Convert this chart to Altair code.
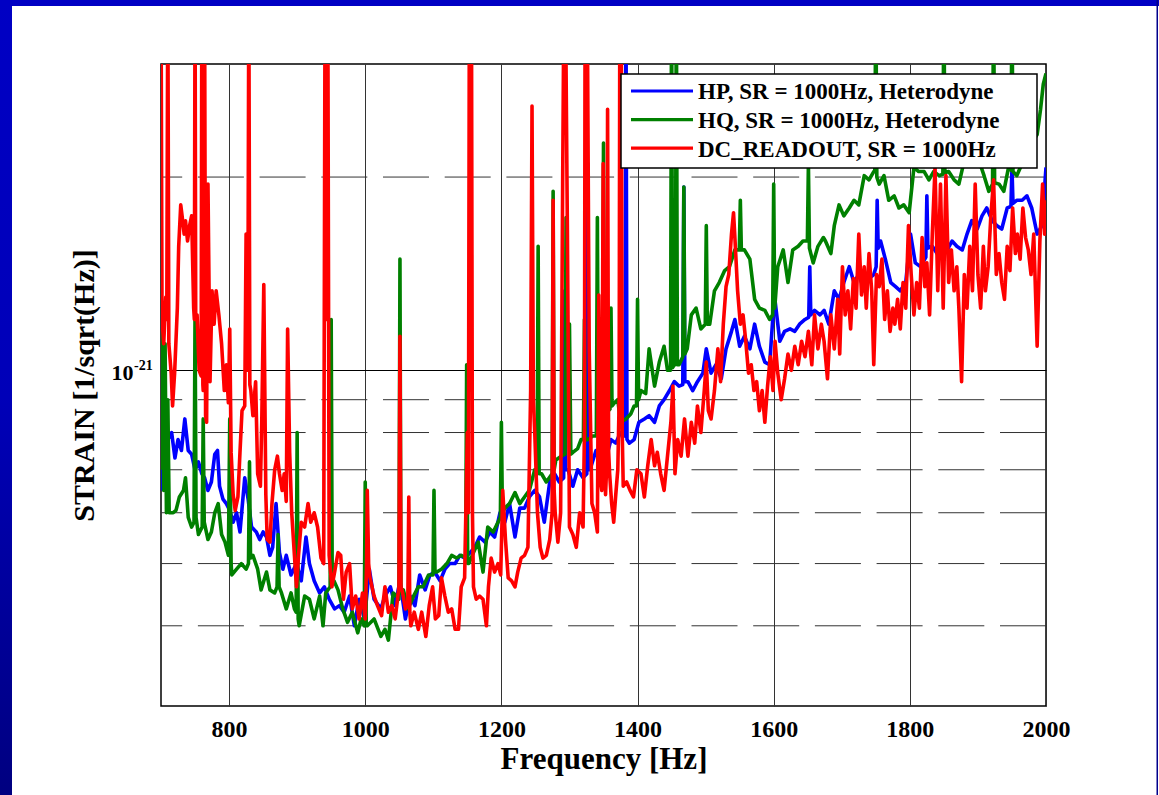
import altair as alt
import pandas as pd

# ---------------- data (strain in units of 1e-22 / sqrt(Hz)) ----------------
SERIES = ["HP, SR = 1000Hz, Heterodyne", "HQ, SR = 1000Hz, Heterodyne", "DC_READOUT, SR = 1000Hz"]
COLORS = ["#0000FF", "#008000", "#FF0000"]

hp_points = [
    (700, 6.5), (703, 8.5), (706, 7.0), (710, 7.8), (715.6, 8.0), (720.5, 7.3), (725, 7.8), (730, 7.5),
    (735, 8.4), (740, 7.5), (745, 7.4), (750, 7.0), (755, 7.2), (760, 6.9), (764, 6.8), (769, 6.5),
    (774, 6.7), (779, 7.4), (783, 7.5), (786, 6.6), (791, 6.3), (796, 6.2), (801, 6.05), (806, 5.8),
    (811, 6.0), (816, 5.6), (823, 6.8), (828, 6.3), (833, 5.7), (840, 5.6), (845, 5.45), (850, 5.6),
    (855, 5.5), (860, 5.15), (864, 5.3), (869, 6.2), (874, 5.2), (879, 4.9), (884, 5.15), (891, 4.8),
    (899, 5.0), (906, 4.7), (913, 5.5), (918, 5.0), (925, 4.7), (933, 4.5), (940, 4.6), (947, 4.4),
    (955, 4.25), (962, 4.3), (969, 4.2), (977, 4.45), (984, 4.0), (991, 4.4), (999, 4.1), (1006, 4.9),
    (1013, 4.4), (1023, 4.25), (1029, 4.45), (1037, 4.6), (1044, 4.3), (1051, 4.7), (1059, 4.1),
    (1066, 4.45), (1073, 4.3), (1080, 4.8), (1088, 4.55), (1095, 4.8), (1102, 4.85), (1110, 4.7),
    (1117, 4.9), (1124, 5.0), (1132, 5.0), (1139, 5.15), (1146, 5.1), (1154, 5.2), (1161, 5.3),
    (1168, 5.5), (1176, 5.4), (1183, 5.6), (1190, 5.5), (1198, 6.0), (1205, 5.8), (1212, 6.2),
    (1220, 5.5), (1227, 6.1), (1234, 6.1), (1241, 6.35), (1249, 6.5), (1256, 6.35), (1263, 5.8),
    (1271, 6.7), (1278, 6.9), (1285, 6.7), (1291.5, 6.8), (1293, 13.3), (1294.5, 7.0), (1298, 7.0),
    (1305, 6.6), (1312, 7.0), (1320, 6.8), (1325.5, 6.9), (1327, 21.0), (1328.5, 7.0), (1332, 7.1),
    (1339, 7.5), (1346, 7.3), (1351, 7.1), (1361, 7.8), (1368, 7.7), (1375, 8.0), (1381.5, 7.9),
    (1383, 40.0), (1384.5, 7.8), (1388, 7.7), (1395, 7.8), (1402, 8.3), (1410, 8.4), (1417, 8.5),
    (1425, 8.3), (1432, 8.8), (1439, 9.0), (1447, 9.3), (1454, 9.6), (1461, 9.45), (1466.5, 9.5),
    (1468, 19.3), (1469.5, 9.6), (1474, 9.6), (1481, 9.3), (1488, 9.6), (1496, 9.9), (1501, 10.8),
    (1508, 9.9), (1515, 10.2), (1523, 9.7), (1530, 10.8), (1538, 11.5), (1543, 12.0), (1550, 10.9),
    (1557, 11.3), (1565, 10.8), (1572, 11.8), (1579, 10.9), (1587, 10.3), (1594, 10.2), (1601, 13.1),
    (1609, 11.1), (1616, 11.5), (1624, 11.6), (1631, 11.5), (1638, 11.8), (1646, 12.0), (1651.5, 12.1),
    (1653, 14.5), (1654.5, 12.2), (1660, 12.4), (1668, 12.2), (1674, 12.4), (1681, 11.8), (1689, 13.3),
    (1696, 12.9), (1703, 13.7), (1711, 14.5), (1718, 13.7), (1725, 14.1), (1733, 13.3), (1740, 13.9),
    (1747, 14.1), (1750.5, 14.5), (1752, 18.4), (1753.5, 15.5), (1757, 15.9), (1764, 14.9), (1772, 13.7),
    (1779, 13.5), (1786, 13.3), (1794, 13.7), (1801, 16.3), (1808, 14.7), (1816, 14.5), (1823.5, 15.0),
    (1825, 18.7), (1826.5, 15.5), (1833, 15.6), (1840, 15.2), (1847, 16.1), (1855, 15.4), (1862, 15.9),
    (1869, 15.6), (1877, 15.4), (1884, 16.3), (1891, 17.1), (1899, 16.6), (1906, 17.4), (1913, 17.9),
    (1921, 17.1), (1928, 16.8), (1935, 16.6), (1943, 17.9), (1948.5, 18.0), (1950, 20.7), (1951.5, 18.2),
    (1957, 18.4), (1965, 18.4), (1972, 18.7), (1979, 17.9), (1987, 16.3), (1994, 16.8), (2000, 20.7),
]

hq_points = [
    (700, 7.0), (702, 12.5), (704, 6.5), (706, 11.0), (708, 6.0), (710, 9.0), (712, 6.0), (715, 6.0),
    (718, 6.0), (722, 6.05), (727, 6.35), (733, 6.5), (736, 6.8), (740, 5.9), (745, 5.7), (748.5, 5.8),
    (750, 12.2), (751.5, 5.9), (755, 5.55), (760.5, 5.7), (762, 8.4), (763.5, 5.8), (769, 5.45),
    (774, 5.6), (779, 6.0), (784, 6.2), (789, 5.55), (794, 5.4), (799, 5.15), (801, 8.4), (803, 5.0),
    (804, 4.8), (811, 4.9), (818, 5.0), (825, 4.9), (828.5, 5.0), (830, 7.2), (831.5, 5.1), (835, 5.15),
    (842, 4.9), (847, 4.55), (855, 4.85), (860, 4.55), (867, 4.5), (870.5, 4.6), (872, 5.55),
    (873.5, 4.6), (877, 4.5), (884, 4.25), (891, 4.5), (896, 4.25), (898.5, 4.2), (900, 8.0),
    (901.5, 4.1), (903, 4.0), (911, 4.45), (918, 4.4), (925, 4.1), (933, 4.45), (938, 4.0), (942, 4.5),
    (948.5, 4.6), (950, 12.0), (951.5, 4.7), (954, 4.7), (960, 4.55), (967, 4.25), (974, 4.05),
    (981, 4.2), (989, 3.9), (994, 4.1), (998.5, 4.0), (1000, 6.7), (1001.5, 4.0), (1003, 4.0),
    (1013, 4.1), (1023, 3.85), (1029, 3.95), (1034, 3.8), (1041, 4.5), (1046, 4.45), (1049.5, 4.4),
    (1051, 14.9), (1052.5, 4.5), (1056, 4.55), (1063, 4.25), (1071, 4.45), (1078, 4.6), (1085, 4.6),
    (1093, 4.8), (1099.5, 4.8), (1101, 6.5), (1102.5, 4.85), (1105, 4.85), (1112, 4.9), (1120, 5.0),
    (1127, 5.15), (1134, 5.1), (1141, 5.15), (1147.5, 5.1), (1149, 10.2), (1150.5, 5.0), (1152, 5.0),
    (1159, 5.2), (1166, 5.4), (1173, 4.85), (1180, 5.7), (1188, 5.6), (1195, 5.8), (1198.5, 5.9),
    (1200, 8.3), (1201.5, 6.0), (1205, 6.1), (1212, 6.2), (1220, 6.45), (1227, 6.2), (1234, 6.35),
    (1241, 6.5), (1249, 7.0), (1252.5, 6.9), (1254, 15.6), (1255.5, 6.9), (1259, 6.9), (1266, 6.7),
    (1274.5, 6.9), (1276, 19.0), (1277.5, 7.0), (1280, 7.25), (1288, 7.35), (1293.5, 7.4), (1295, 17.3),
    (1297, 9.0), (1300, 11.8), (1302, 7.4), (1305, 7.45), (1312, 7.55), (1317, 7.8), (1320.5, 7.8),
    (1322, 12.0), (1323.5, 7.8), (1327, 7.8), (1334, 7.9), (1339.5, 7.9), (1341, 17.3), (1342.5, 8.0),
    (1345, 8.0), (1348.5, 8.2), (1350, 22.6), (1351.5, 8.4), (1353, 8.55), (1359.5, 8.7), (1361, 12.5),
    (1362.5, 8.8), (1366, 8.9), (1371, 9.0), (1375, 8.3), (1383, 8.4), (1390, 8.55), (1395, 8.8),
    (1398.5, 8.8), (1400, 12.9), (1401.5, 9.0), (1405, 9.3), (1412, 9.2), (1417, 10.8), (1425, 9.45),
    (1432, 10.3), (1439, 10.9), (1444, 10.0), (1448.5, 10.0), (1450, 40.0), (1451.5, 10.1), (1454, 10.2),
    (1455.5, 10.2), (1457, 40.0), (1458.5, 10.2), (1461, 10.2), (1466.5, 10.5), (1468, 19.3),
    (1469.5, 10.6), (1473, 10.8), (1479, 12.2), (1486, 12.5), (1493, 11.6), (1499.5, 11.8), (1501, 16.8),
    (1502.5, 11.8), (1506, 11.8), (1513, 13.3), (1520, 13.7), (1528, 14.3), (1535, 14.5), (1543, 15.4),
    (1549.5, 15.4), (1551, 18.4), (1552.5, 15.4), (1557, 15.4), (1565, 14.9), (1572, 12.9), (1579, 12.5),
    (1587, 12.4), (1594, 12.0), (1598.5, 12.2), (1600, 19.5), (1601.5, 12.5), (1606, 14.5), (1614, 15.4),
    (1621, 13.7), (1628, 15.4), (1636, 15.6), (1643, 15.9), (1649.5, 15.9), (1651, 21.0), (1652.5, 15.5),
    (1658, 14.7), (1665, 15.6), (1673, 16.1), (1676, 15.9), (1684, 15.2), (1689, 16.8), (1696, 18.1),
    (1703, 17.4), (1711, 17.9), (1718, 18.4), (1725, 18.1), (1733, 20.1), (1740, 19.8), (1747, 20.4),
    (1748.5, 20.4), (1750, 40.0), (1751.5, 20.0), (1755, 19.5), (1762, 20.1), (1769, 18.4), (1777, 18.7),
    (1784, 17.9), (1791, 18.1), (1799, 17.6), (1806, 20.7), (1813, 20.4), (1821, 20.4), (1828, 19.8),
    (1835, 20.4), (1843, 20.1), (1848.5, 20.2), (1850, 40.0), (1851.5, 20.3), (1857, 20.4), (1865, 19.8),
    (1872, 19.5), (1879, 21.0), (1887, 21.3), (1894, 22.0), (1901, 21.3), (1909, 20.1), (1916, 19.0),
    (1921.5, 19.5), (1923, 40.0), (1924.5, 19.6), (1931, 19.5), (1938, 19.0), (1945, 20.7), (1948.5, 20.5),
    (1950, 40.0), (1951.5, 20.4), (1957, 20.1), (1965, 21.0), (1972, 22.0), (1979, 22.6), (1987, 23.3),
    (1992, 25.5), (1996, 27.9), (2000, 29.0),
]

dc_points = [
    (700, 40.0), (701.5, 12.0), (704, 11.0), (707, 13.0), (708.5, 12.0), (710, 40.0), (711.5, 11.0),
    (715, 9.9), (717, 8.8), (720, 9.9), (724, 12.5), (726, 15.6), (729, 18.1), (731, 17.4), (734, 16.3),
    (736, 17.1), (739, 15.9), (742, 16.8), (745, 17.4), (748, 12.5), (749, 12.0), (750, 40.0),
    (751, 12.0), (753, 12.2), (756, 10.0), (759, 9.8), (760, 40.0), (761.5, 9.5), (762, 9.3),
    (763, 9.5), (764, 40.0), (765.5, 8.5), (767, 8.3), (769, 19.5), (772, 9.6), (775, 13.3),
    (778, 11.8), (781, 13.3), (785, 12.2), (789, 11.0), (793, 9.3), (796, 10.2), (799, 8.9),
    (801, 11.6), (803, 7.45), (806, 6.4), (809, 6.05), (813, 6.35), (816, 7.45), (819, 8.65),
    (823, 8.8), (825, 16.3), (827.5, 10.0), (829, 40.0), (830.5, 9.5), (832, 9.3), (835, 8.5),
    (839, 9.6), (842, 6.9), (846, 6.6), (848, 8.3), (851, 13.6), (854, 6.4), (856, 5.45), (860, 5.4),
    (863, 6.2), (867, 7.0), (871, 7.35), (874, 6.9), (878, 6.5), (881, 6.9), (884, 6.25), (886, 11.6),
    (889, 7.45), (892, 6.0), (896, 5.15), (899, 4.6), (902, 5.15), (906, 5.8), (911, 5.7), (916, 6.2),
    (920, 5.8), (925, 6.0), (930, 5.7), (935, 5.1), (939, 5.0), (941, 40.0), (943, 12.0), (945, 40.0),
    (947, 5.15), (951, 4.6), (955, 4.85), (960, 5.2), (964, 5.15), (968, 4.4), (972, 4.85), (977, 5.0),
    (981, 4.25), (986, 4.45), (991, 4.1), (996, 4.5), (1000, 4.1), (1002, 5.0), (1003, 6.5),
    (1005, 5.0), (1007, 4.75), (1013, 4.45), (1018, 4.3), (1024, 4.15), (1029, 4.6), (1034, 4.2),
    (1039, 4.3), (1044, 4.1), (1048, 4.45), (1049.5, 4.6), (1051, 11.3), (1052.5, 4.6), (1055, 4.5),
    (1059, 4.25), (1062.5, 4.3), (1064, 6.35), (1065.5, 4.2), (1067, 4.0), (1072, 4.2), (1078, 3.95),
    (1083, 4.2), (1089, 3.85), (1094, 4.3), (1099, 4.6), (1103, 4.1), (1108, 4.15), (1112, 4.75),
    (1117, 4.45), (1122, 4.2), (1127, 4.25), (1132, 3.95), (1137, 3.95), (1141, 4.6), (1146, 4.75),
    (1150, 8.0), (1151.5, 6.0), (1153, 40.0), (1156, 40.0), (1157.5, 6.0), (1159, 4.6), (1163, 4.4),
    (1168, 4.45), (1173, 4.4), (1178, 4.0), (1181, 4.6), (1185, 5.1), (1190, 4.85), (1195, 5.0),
    (1199, 4.8), (1202, 6.5), (1206, 5.45), (1210, 4.75), (1215, 4.7), (1220, 4.6), (1224, 4.85),
    (1229, 5.1), (1234, 5.15), (1239, 5.3), (1243, 9.3), (1245, 25.8), (1247, 9.0), (1249, 8.0),
    (1253, 6.0), (1257, 5.3), (1261, 5.1), (1266, 5.15), (1271, 5.45), (1274.5, 6.0), (1276, 18.4),
    (1277.5, 6.5), (1279, 6.0), (1283, 5.4), (1287, 6.0), (1290, 19.5), (1292, 40.0), (1294, 40.0),
    (1297, 16.3), (1300, 5.7), (1305, 5.55), (1310, 5.3), (1315, 6.0), (1320, 5.7), (1322, 8.0),
    (1323, 40.0), (1326, 40.0), (1329, 10.8), (1333, 6.2), (1337, 6.0), (1341, 5.6), (1343, 13.1),
    (1345, 6.8), (1347.5, 6.5), (1349.5, 21.0), (1351, 8.0), (1353, 6.4), (1354.5, 7.0), (1356, 25.5),
    (1357.5, 7.5), (1359, 6.9), (1362, 6.2), (1365, 5.8), (1368, 6.4), (1371, 7.0), (1373, 9.0),
    (1374, 40.0), (1376, 40.0), (1377.5, 8.0), (1379, 6.6), (1384, 6.7), (1389, 6.5), (1394, 6.35),
    (1399, 7.0), (1405, 6.9), (1410, 6.35), (1415, 7.1), (1420, 7.8), (1425, 7.1), (1429, 7.45),
    (1434, 6.9), (1439, 6.5), (1444, 7.35), (1449, 8.3), (1452, 9.45), (1455, 6.9), (1459, 7.8),
    (1464, 7.35), (1469, 8.4), (1474, 7.35), (1479, 8.3), (1484, 7.7), (1488, 8.8), (1493, 8.0),
    (1498, 9.3), (1501, 10.3), (1504, 8.65), (1508, 8.4), (1513, 9.3), (1518, 10.8), (1522, 9.6),
    (1526, 11.8), (1530, 13.5), (1534, 14.1), (1538, 16.3), (1541, 17.6), (1543, 16.1), (1547, 13.3),
    (1551, 11.8), (1555, 12.2), (1559, 11.1), (1563, 9.9), (1567, 10.2), (1571, 9.3), (1575, 9.6),
    (1579, 8.65), (1583, 9.3), (1587, 8.3), (1591, 9.45), (1595, 10.5), (1599, 9.3), (1602, 11.1),
    (1606, 9.9), (1611, 9.0), (1616, 9.7), (1621, 10.6), (1626, 10.0), (1631, 10.9), (1636, 10.2),
    (1641, 11.1), (1646, 10.5), (1651, 11.5), (1656, 10.2), (1660, 12.2), (1665, 10.8), (1670, 11.8),
    (1674, 11.1), (1679, 9.7), (1684, 12.2), (1689, 10.8), (1694, 12.9), (1697, 10.6), (1701, 14.5),
    (1705, 12.2), (1709, 13.3), (1713, 11.6), (1717, 13.9), (1721, 12.5), (1725, 16.3), (1729, 13.1),
    (1733, 14.5), (1736, 12.5), (1740, 15.2), (1744, 13.3), (1747, 10.2), (1751, 14.1), (1755, 13.5),
    (1759, 14.9), (1763, 12.0), (1767, 13.3), (1771, 11.5), (1775, 12.5), (1778, 11.8), (1782, 12.9),
    (1786, 11.6), (1790, 13.7), (1794, 12.5), (1798, 16.8), (1802, 14.1), (1806, 12.2), (1810, 13.7),
    (1814, 12.5), (1818, 16.1), (1822, 13.5), (1825, 14.7), (1829, 12.2), (1833, 16.3), (1837, 20.7),
    (1841, 13.3), (1845, 19.5), (1849, 12.5), (1853, 20.1), (1857, 13.7), (1861, 15.4), (1865, 13.3),
    (1869, 14.5), (1872, 12.5), (1876, 9.6), (1880, 14.1), (1884, 12.5), (1888, 15.6), (1892, 13.3),
    (1896, 19.5), (1900, 14.1), (1904, 12.5), (1908, 15.6), (1911, 13.3), (1915, 14.5), (1919, 17.4),
    (1923, 19.8), (1927, 14.1), (1931, 15.2), (1935, 13.7), (1939, 12.9), (1943, 15.6), (1947, 14.3),
    (1951, 17.9), (1955, 15.2), (1958, 16.3), (1962, 14.9), (1966, 17.9), (1970, 16.1), (1974, 15.4),
    (1978, 14.1), (1982, 16.3), (1987, 10.9), (1991, 15.9), (1995, 19.5), (1998, 16.3), (2000, 18.4),
]

x_ticks = [800, 1000, 1200, 1400, 1600, 1800, 2000]
y_major = [1e-21]
y_minor = [4e-22, 5e-22, 6e-22, 7e-22, 8e-22, 9e-22, 2e-21]

# ---------------- layout constants ----------------
FONT = "Liberation Serif"
W, H = 885, 642
PAD = {"left": 161, "top": 64, "right": 113, "bottom": 89}


def table(points):
    return pd.DataFrame({"freq": [p[0] for p in points], "strain": [p[1] * 1e-22 for p in points]})


x_scale = alt.Scale(domain=[700, 2000], nice=False, zero=False)
y_scale = alt.Scale(type="log", domain=[3e-22, 3e-21], nice=False, zero=False)
one = pd.DataFrame({"k": [0]})

x_axis = alt.Axis(
    values=x_ticks, format="d", title="Frequency [Hz]", grid=True, gridColor="#333333", gridWidth=1,
    domain=False, ticks=False, tickSize=0, labelPadding=11, labelFontSize=24, labelFlush=False,
    titleFontSize=31, titleY=62, titleBaseline="alphabetic",
)
y_axis = alt.Axis(
    values=y_major, labelExpr="'10'", title="STRAIN [1/sqrt(Hz)]", grid=True, gridColor="#000000",
    gridWidth=1, domain=False, ticks=False, tickSize=0, labelPadding=28, labelFontSize=22,
    labelOffset=2, titleFontSize=30, titleX=-77, titleY=H / 2, titleAngle=270,
    titleBaseline="middle", titleAlign="center",
)

# slide border (left bar darkens towards the bottom)
left_fill = alt.LinearGradient(
    gradient="linear", x1=0, x2=0, y1=0, y2=1,
    stops=[alt.GradientStop(offset=0, color="#0000C4"), alt.GradientStop(offset=0.5, color="#0000B8"),
           alt.GradientStop(offset=1, color="#000080")],
)
border = alt.layer(
    alt.Chart(one).mark_rect(color=left_fill).encode(
        x=alt.value(-161), x2=alt.value(-149), y=alt.value(-64), y2=alt.value(731)),
    alt.Chart(one).mark_rect(color="#0000C4").encode(
        x=alt.value(-161), x2=alt.value(998), y=alt.value(-64), y2=alt.value(-58)),
    alt.Chart(one).mark_rect(color="#00008B").encode(
        x=alt.value(995.5), x2=alt.value(997), y=alt.value(-64), y2=alt.value(731)),
)

minor = alt.Chart(pd.DataFrame({"strain": y_minor})).mark_rule(
    color="#333333", strokeWidth=1, strokeDash=[46, 15.7]
).encode(y=alt.Y("strain:Q", scale=y_scale, axis=y_axis))

lines = []
for i, pts in enumerate([hp_points, hq_points, dc_points]):
    lines.append(
        alt.Chart(table(pts)).mark_line(
            color=COLORS[i], strokeWidth=3.6, clip=True, strokeJoin="round"
        ).encode(
            x=alt.X("freq:Q", scale=x_scale, axis=x_axis),
            y=alt.Y("strain:Q", scale=y_scale, axis=y_axis),
        )
    )

sup = alt.Chart(pd.DataFrame({"strain": y_major})).mark_text(
    font=FONT, fontWeight="bold", fontSize=14, align="left", baseline="alphabetic", color="black"
).encode(y=alt.Y("strain:Q", scale=y_scale, axis=y_axis), x=alt.value(-27), text=alt.value("-21"))

legend_layers = [
    alt.Chart(one).mark_rect(fill="white", stroke="black", strokeWidth=1.5).encode(
        x=alt.value(460), x2=alt.value(876), y=alt.value(10), y2=alt.value(104))
]
for i, name in enumerate(SERIES):
    legend_layers.append(
        alt.Chart(one).mark_rule(color=COLORS[i], strokeWidth=3.2).encode(
            x=alt.value(470), x2=alt.value(532), y=alt.value(27 + i * 28.6))
    )
    legend_layers.append(
        alt.Chart(one).mark_text(
            font=FONT, fontWeight="bold", fontSize=23, align="left", baseline="alphabetic", color="black"
        ).encode(x=alt.value(537), y=alt.value(35 + i * 28.8), text=alt.value(name))
    )

chart = alt.layer(border, minor, *lines, sup, *legend_layers).properties(
    width=W, height=H, padding=PAD, autosize=alt.AutoSizeParams(type="none"), background="white"
).configure_axis(
    labelFont=FONT, titleFont=FONT, labelFontWeight="bold", titleFontWeight="bold",
    labelColor="black", titleColor="black",
).configure_view(stroke="black", strokeWidth=1.5)

chart.save("out.html", embed_options={"renderer": "svg", "actions": False})
